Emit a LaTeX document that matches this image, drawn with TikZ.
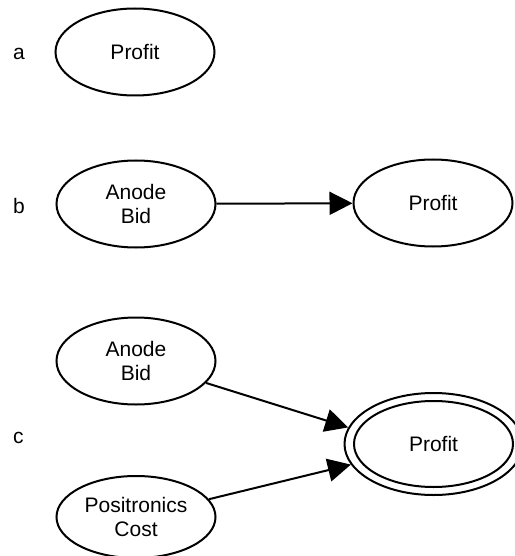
\documentclass[tikz,border=0pt]{standalone}
\usepackage{fontspec}
\setmainfont{Liberation Sans}[Ligatures=NoCommon]
\usetikzlibrary{shapes.geometric,arrows.meta}

\tikzset{
  varnode/.style={ellipse, draw=black, line width=2pt, inner sep=0pt,
    minimum width=159pt, minimum height=87pt, align=center,
    font=\fontsize{21}{23.5}\selectfont},
  panel/.style={anchor=base west, inner sep=0pt, font=\fontsize{21}{23.5}\selectfont},
  influence/.style={line width=2pt, -{Triangle[length=23pt,width=23pt]}}
}

\begin{document}
\begin{tikzpicture}[x=1pt, y=-1pt]
\useasboundingbox (0,0) rectangle (514,556);

% (a) a single value node
\node[panel] (la) at (13,60) {a};
\node[varnode] (profa) at (135,52) {Profit};

% (b) one decision feeding the value
\node[panel] (lb) at (13,213) {b};
\node[varnode] (bidb) at (136,204) {Anode\\Bid};
\node[varnode] (profb) at (433,203) {Profit};
\draw[influence] (bidb) -- (profb);

% (c) two inputs feeding a double-bordered value
\node[panel] (lc) at (13,443) {c};
\node[varnode] (bidc) at (136,361) {Anode\\Bid};
\node[varnode, minimum height=82pt] (posc) at (136,517) {Positronics\\Cost};
\node[ellipse, draw=black, line width=2pt, inner sep=0pt,
      minimum width=178pt, minimum height=102pt] (profc) at (433.5,444) {};
\node[varnode, minimum height=86pt] (profcin) at (433.5,444) {Profit};
\draw[influence] (bidc) -- (profc.169);
\draw[influence] (posc) -- (profc.194);
\end{tikzpicture}
\end{document}
